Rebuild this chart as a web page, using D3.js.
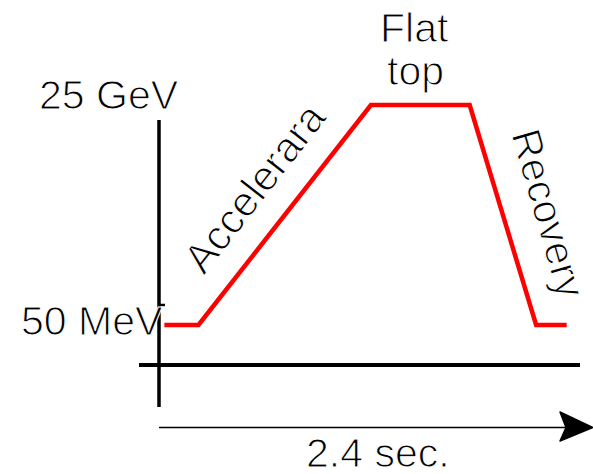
<!DOCTYPE html>
<html>
<head>
<meta charset="utf-8">
<script src="https://cdn.jsdelivr.net/npm/d3@7"></script>
<style>
html,body{margin:0;padding:0;background:#fff;}
svg{display:block;}
text{font-family:"Liberation Sans",Arial,sans-serif;font-size:41px;fill:#000;stroke:#fff;stroke-width:1.1px;paint-order:fill;}
</style>
</head>
<body>
<svg id="chart" width="593" height="474"></svg>
<script>
// Data: cycle of the accelerator ramp (time in s, energy in GeV)
const times = [0.03, 0.22, 1.18, 1.73, 2.10, 2.27];
const energies = [0.05, 0.05, 25, 25, 0.05, 0.05];
const energyLabels = ["50 MeV", "25 GeV"];
const energyLabelValues = [0.05, 25];
const phaseLabels = ["Accelerara", "Recovery"];
const timeLabel = "2.4 sec.";
const flatLabel = ["Flat", "top"];
const tickValues = [0.088];

const svg = d3.select("#chart");
const x = d3.scaleLinear().domain([0, 2.4]).range([159, 590]);
const y = d3.scaleLog().domain([0.05, 25]).range([325, 105]);

// vertical axis
svg.append("line").attr("x1", x(0)).attr("x2", x(0)).attr("y1", 120).attr("y2", 407)
  .attr("stroke", "#000").attr("stroke-width", 3.5);
// small tick
svg.selectAll(".tick").data(tickValues).enter().append("line")
  .attr("x1", x(0)).attr("x2", x(0) + 6).attr("y1", d => y(d)).attr("y2", d => y(d))
  .attr("stroke", "#000").attr("stroke-width", 2.5);
// baseline (thick)
svg.append("line").attr("x1", x(0) - 20).attr("x2", 580).attr("y1", 365).attr("y2", 365)
  .attr("stroke", "#000").attr("stroke-width", 4);
// time arrow
svg.append("line").attr("x1", x(0)).attr("x2", 585).attr("y1", 427.5).attr("y2", 427.5)
  .attr("stroke", "#000").attr("stroke-width", 1.5);
svg.append("path")
  .attr("d", "M593,427.5 L560,412 L566,427.5 L560,441 Z")
  .attr("fill", "#000").attr("stroke", "#000").attr("stroke-width", 1.5)
  .attr("stroke-linejoin", "round");

// energy ramp
const line = d3.line().x((d, i) => x(times[i])).y(d => y(d));
svg.append("path").datum(energies).attr("d", line)
  .attr("fill", "none").attr("stroke", "#ff0000").attr("stroke-width", 4.5)
  .attr("stroke-linejoin", "miter");

// energy labels
svg.append("text").attr("x", 21).attr("y", y(energyLabelValues[0]) + 10).text(energyLabels[0]);
svg.append("text").attr("x", 39).attr("y", y(energyLabelValues[1]) + 3.5).text(energyLabels[1]);

// flat top label
svg.append("text").attr("x", 380).attr("y", 41.5).text(flatLabel[0]);
svg.append("text").attr("x", 387).attr("y", 85).text(flatLabel[1]);

// phase labels
svg.append("text").attr("transform", "translate(204,276) rotate(-52)")
  .style("font-size", "42px").text(phaseLabels[0]);
svg.append("text").attr("transform", "translate(511,134) rotate(74)")
  .text(phaseLabels[1]);

// time label
svg.append("text").attr("x", 306).attr("y", 466.5).text(timeLabel);
</script>
</body>
</html>
